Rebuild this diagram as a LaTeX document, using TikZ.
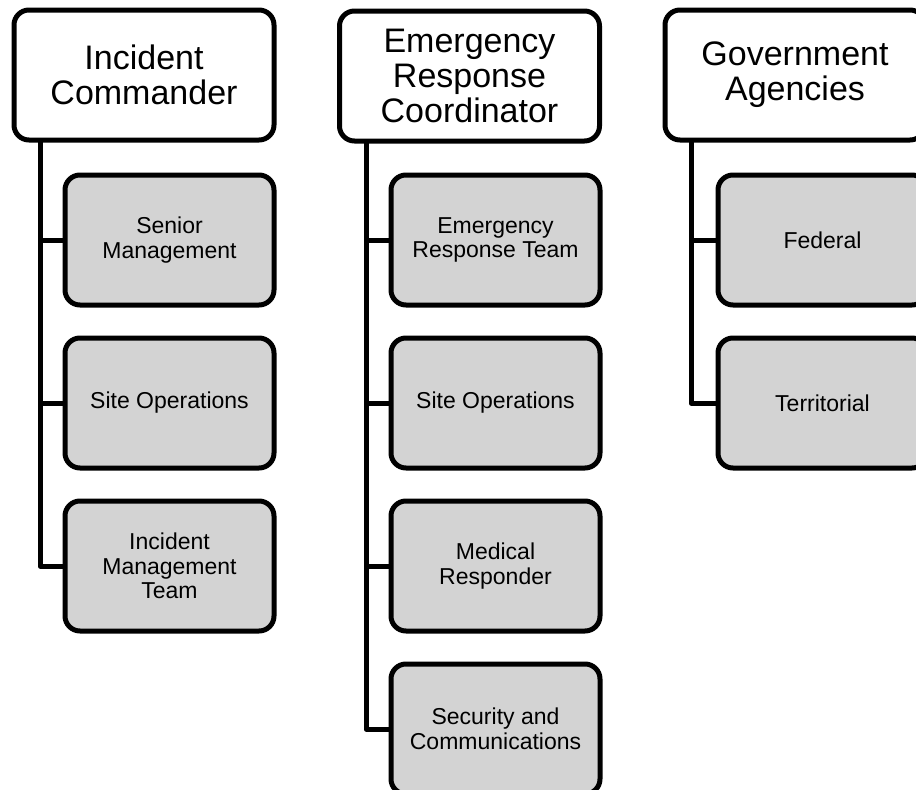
\documentclass[tikz,border=0pt]{standalone}
\usepackage{fontspec}
\setmainfont{Liberation Sans}
\begin{document}
\begin{tikzpicture}[x=1pt,y=-1pt,
  headbox/.style={draw, line width=5pt, rounded corners=15pt, fill=white,
    minimum width=260pt, minimum height=130pt, align=center, inner sep=0pt,
    font=\fontsize{34}{35}\selectfont},
  subbox/.style={draw, line width=5pt, rounded corners=15pt, fill=boxgray,
    minimum width=209pt, minimum height=130pt, align=center, inner sep=0pt,
    font=\fontsize{23}{24.5}\selectfont},
  link/.style={line width=5pt, line join=round}]
\definecolor{boxgray}{RGB}{211,211,211}
\useasboundingbox (0,0) rectangle (916,790);
\clip (0,0) rectangle (916,790);

% top-level roles
\node[headbox] (ic)  at (144,75)   {Incident\\Commander};
\node[headbox] (erc) at (469.5,76) {Emergency\\Response\\Coordinator};
\node[headbox] (ga)  at (795,75)   {Government\\Agencies};

% branch starting points under each role
\coordinate (icb)  at (40,141);
\coordinate (ercb) at (366,141);
\coordinate (gab)  at (691,141);

% Incident Commander branch
\node[subbox] (sm)  at (169.5,240) {Senior\\Management};
\node[subbox] (so1) at (169.5,403) {Site Operations};
\node[subbox] (imt) at (169.5,566) {Incident\\Management\\Team};

% Emergency Response Coordinator branch
\node[subbox] (ert) at (495.5,240) {Emergency\\Response Team};
\node[subbox] (so2) at (495.5,403) {Site Operations};
\node[subbox] (mr)  at (495.5,566) {Medical\\Responder};
\node[subbox] (sc)  at (495.5,729) {Security and\\Communications};

% Government Agencies branch
\node[subbox] (fed) at (822.5,240) {Federal};
\node[subbox] (ter) at (822.5,403) {Territorial};

% connectors
\foreach \c in {sm,so1,imt} \draw[link] (icb) |- (\c.west);
\foreach \c in {ert,so2,mr,sc} \draw[link] (ercb) |- (\c.west);
\foreach \c in {fed,ter} \draw[link] (gab) |- (\c.west);
\end{tikzpicture}
\end{document}
